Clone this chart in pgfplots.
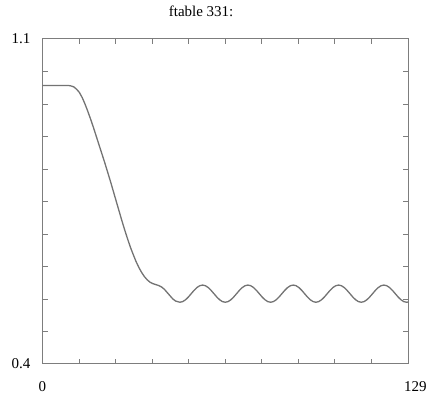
\documentclass[border=0pt]{standalone}
\usepackage{fontspec}
\setmainfont{Liberation Serif}
\usepackage{pgfplots}
\pgfplotsset{compat=1.18}
\definecolor{curvegray}{RGB}{115,115,115}
\definecolor{boxgray}{RGB}{125,125,125}
\begin{document}
\begin{tikzpicture}
\begin{axis}[
  scale only axis, width=365.5pt, height=325pt,
  xmin=0, xmax=129, ymin=0.4, ymax=1.1,
  xtick={0,129}, xticklabels={0,129},
  ytick={0.4,1.1}, yticklabels={0.4,1.1},
  minor xtick={12.9,25.8,38.7,51.6,64.5,77.4,90.3,103.2,116.1},
  minor ytick={0.47,0.54,0.61,0.68,0.75,0.82,0.89,0.96,1.03},
  tick align=inside, minor tick length=5pt, major tick length=0pt,
  axis line style={boxgray, line width=1pt},
  every tick/.style={boxgray, line width=0.9pt},
  font=\fontsize{15}{18}\selectfont,
  xticklabel style={anchor=north west, inner sep=0pt, xshift=-4pt, yshift=-17pt},
  yticklabel style={anchor=east, inner sep=0pt, xshift=-12pt},
  title={ftable 331:},
  title style={at={(0.434,1)}, anchor=base, inner sep=0pt, yshift=16pt},
]
\addplot[curvegray, line width=1.3pt] coordinates {
(0,1.000) (9,1.000) (10,0.999) (11,0.997) (12,0.992) (13,0.985) (14,0.974)
(15,0.960) (16,0.944) (17,0.927) (18,0.909) (19,0.890) (20,0.871) (21,0.852)
(22,0.833) (23,0.813) (24,0.793) (25,0.772) (26,0.751) (27,0.730) (28,0.709)
(29,0.689) (30,0.670) (31,0.652) (32,0.636) (33,0.621) (34,0.608) (35,0.597)
(36,0.588) (37,0.581) (38,0.576) (39,0.573) (40,0.571) (41,0.569) (42,0.566)
(43,0.561) (44,0.554) (45,0.547) (46,0.540) (47,0.5355)
(48.5,0.5330) (49.5,0.5344) (50.5,0.5384) (51.5,0.5444) (52.5,0.5515) (53.5,0.5586) (54.5,0.5646) (55.5,0.5686)
(56.5,0.5700) (57.5,0.5686) (58.5,0.5646) (59.5,0.5586) (60.5,0.5515) (61.5,0.5444) (62.5,0.5384) (63.5,0.5344)
(64.5,0.5330) (65.5,0.5344) (66.5,0.5384) (67.5,0.5444) (68.5,0.5515) (69.5,0.5586) (70.5,0.5646) (71.5,0.5686)
(72.5,0.5700) (73.5,0.5686) (74.5,0.5646) (75.5,0.5586) (76.5,0.5515) (77.5,0.5444) (78.5,0.5384) (79.5,0.5344)
(80.5,0.5330) (81.5,0.5344) (82.5,0.5384) (83.5,0.5444) (84.5,0.5515) (85.5,0.5586) (86.5,0.5646) (87.5,0.5686)
(88.5,0.5700) (89.5,0.5686) (90.5,0.5646) (91.5,0.5586) (92.5,0.5515) (93.5,0.5444) (94.5,0.5384) (95.5,0.5344)
(96.5,0.5330) (97.5,0.5344) (98.5,0.5384) (99.5,0.5444) (100.5,0.5515) (101.5,0.5586) (102.5,0.5646) (103.5,0.5686)
(104.5,0.5700) (105.5,0.5686) (106.5,0.5646) (107.5,0.5586) (108.5,0.5515) (109.5,0.5444) (110.5,0.5384) (111.5,0.5344)
(112.5,0.5330) (113.5,0.5344) (114.5,0.5384) (115.5,0.5444) (116.5,0.5515) (117.5,0.5586) (118.5,0.5646) (119.5,0.5686)
(120.5,0.5700) (121.5,0.5686) (122.5,0.5646) (123.5,0.5586) (124.5,0.5515) (125.5,0.5444) (126.5,0.5384) (127.5,0.5344)
(128.5,0.5330) (129,0.5334)
};
\end{axis}
\path ([shift={(-42.5pt,-30pt)}]current axis.south west) rectangle ([shift={(23pt,39pt)}]current axis.north east);
\end{tikzpicture}
\end{document}
